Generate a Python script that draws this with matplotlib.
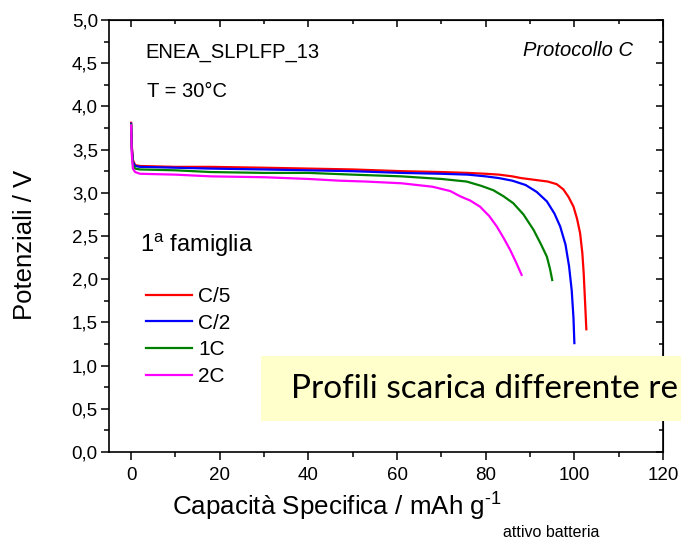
import matplotlib
matplotlib.use("Agg")
import matplotlib.pyplot as plt
from matplotlib.patches import Rectangle
from matplotlib.ticker import MultipleLocator, FuncFormatter

plt.rcParams["font.family"] = ["Liberation Sans", "DejaVu Sans"]
plt.rcParams["mathtext.fontset"] = "custom"
plt.rcParams["mathtext.rm"] = "Liberation Sans"
plt.rcParams["mathtext.it"] = "Liberation Sans:italic"

# discharge curves (capacity mAh/g, potential V)
cap_c5 = [0, 0.15, 0.4, 0.9, 2, 10, 18, 30, 40, 50, 61, 70, 76, 80, 83, 86, 88,
          91, 94, 96, 97.5, 98.7, 99.8, 100.6, 101.3, 101.8, 102.1, 102.4, 102.7]
v_c5 = [3.81, 3.55, 3.38, 3.32, 3.31, 3.30, 3.30, 3.29, 3.28, 3.27, 3.25, 3.24,
        3.23, 3.22, 3.21, 3.19, 3.17, 3.15, 3.13, 3.10, 3.04, 2.95, 2.84, 2.70,
        2.53, 2.30, 2.07, 1.75, 1.42]

cap_c2 = [0, 0.15, 0.4, 0.9, 2, 10, 18, 30, 40, 50, 61, 70, 76, 80, 83, 86, 89,
          91.5, 93.8, 95.5, 96.8, 98, 98.8, 99.4, 99.8, 100.0]
v_c2 = [3.80, 3.52, 3.36, 3.31, 3.30, 3.29, 3.28, 3.27, 3.26, 3.25, 3.23, 3.22,
        3.21, 3.19, 3.17, 3.14, 3.09, 3.01, 2.90, 2.76, 2.61, 2.40, 2.15, 1.87,
        1.55, 1.26]

cap_1c = [0, 0.15, 0.4, 0.9, 2, 10, 18, 30, 40, 50, 61, 70, 75.7, 79, 81.7, 84,
          86.2, 88.5, 90.8, 92.5, 93.8, 94.5, 95.0]
v_1c = [3.79, 3.50, 3.33, 3.28, 3.27, 3.26, 3.24, 3.23, 3.23, 3.21, 3.19, 3.16,
        3.13, 3.08, 3.03, 2.96, 2.88, 2.75, 2.57, 2.40, 2.26, 2.12, 1.99]

cap_2c = [0, 0.15, 0.4, 0.9, 2, 10, 18, 30, 40, 47, 53, 61, 68, 72, 74.2, 76.5,
          78.7, 80.8, 82.5, 84, 85.5, 86.8, 88.1]
v_2c = [3.78, 3.45, 3.28, 3.24, 3.22, 3.21, 3.19, 3.18, 3.16, 3.14, 3.13, 3.11,
        3.07, 3.02, 2.96, 2.91, 2.84, 2.73, 2.61, 2.48, 2.34, 2.20, 2.05]

labels = ["C/5", "C/2", "1C", "2C"]
colors = ["#ff0000", "#0000ff", "#008000", "#ff00ff"]

fig = plt.figure(figsize=(6.81, 5.4), dpi=100)
ax = fig.add_axes([0.160, 0.163, 0.8136, 0.800])

series = [(cap_c5, v_c5), (cap_c2, v_c2), (cap_1c, v_1c), (cap_2c, v_2c)]
for (x, y), lab, col in zip(series, labels, colors):
    ax.plot(x, y, color=col, lw=1.6, label=lab)

ax.set_xlim(-5, 120)
ax.set_ylim(0, 5)
ax.xaxis.set_major_locator(MultipleLocator(20))
ax.xaxis.set_minor_locator(MultipleLocator(10))
ax.yaxis.set_major_locator(MultipleLocator(0.5))
ax.yaxis.set_minor_locator(MultipleLocator(0.25))
ax.yaxis.set_major_formatter(FuncFormatter(lambda v, p: f"{v:.1f}".replace(".", ",")))

for s in ax.spines.values():
    s.set_linewidth(1.2)
ax.tick_params(which="both", direction="out", top=False, right=False,
               labelsize=13.5, width=1.1)
ax.tick_params(which="major", length=6)
ax.tick_params(which="minor", length=3.3)
ax.tick_params(axis="x", pad=5)
ax.tick_params(axis="y", pad=2)

# inward ticks on top and right
sec_x = ax.secondary_xaxis("top")
sec_x.xaxis.set_major_locator(MultipleLocator(20))
sec_x.xaxis.set_minor_locator(MultipleLocator(10))
sec_x.tick_params(which="both", direction="in", labeltop=False, width=1.1)
sec_x.tick_params(which="major", length=5)
sec_x.tick_params(which="minor", length=3)
sec_y = ax.secondary_yaxis("right")
sec_y.yaxis.set_major_locator(MultipleLocator(0.5))
sec_y.yaxis.set_minor_locator(MultipleLocator(0.25))
sec_y.tick_params(which="both", direction="in", labelright=False, width=1.1)
sec_y.tick_params(which="major", length=5)
sec_y.tick_params(which="minor", length=3)

ax.set_ylabel("Potenziali / V", fontsize=18.5)
ax.yaxis.set_label_coords(-0.129, 0.479)
ax.set_xlabel(r"Capacità Specifica / mAh g$^{\text{-}\mathrm{1}}$", fontsize=18.7, ha="left")
ax.xaxis.set_label_coords(0.114, -0.090)

ax.text(0.065, 0.925, "ENEA_SLPLFP_13", transform=ax.transAxes, fontsize=14.5,
        va="center", ha="left")
ax.text(0.069, 0.835, "T = 30°C", transform=ax.transAxes, fontsize=14.5,
        va="center", ha="left")
ax.text(0.056, 0.478, r"1$^{\mathrm{a}}$ famiglia", transform=ax.transAxes,
        fontsize=17, va="center", ha="left")
ax.text(0.945, 0.93, "Protocollo C", transform=ax.transAxes, fontsize=14.5,
        style="italic", va="center", ha="right")

ax.legend(loc="upper left", bbox_to_anchor=(0.067, 0.382), frameon=False,
          fontsize=15, handlelength=2.2, handletextpad=0.29, labelspacing=0.37,
          borderpad=0, borderaxespad=0)

# yellow callout box cut off by the right edge
fig.patches.append(Rectangle((0.383, 0.2204), 0.7, 0.1203, transform=fig.transFigure,
                             facecolor="#ffffcc", edgecolor="none", zorder=5))
fig.text(0.427, 0.279, "Profili scarica differente re", fontsize=24,
         family=["Lato", "DejaVu Sans"], va="center", ha="left", zorder=6)

# low subscript after the x label, as in the original
fig.canvas.draw()
bb = ax.xaxis.label.get_window_extent()
fig.text(bb.x1 / fig.bbox.width + 0.002, 0.006, "attivo batteria", fontsize=11.5,
         va="baseline", ha="left")

fig.savefig("out.png", dpi=100)
